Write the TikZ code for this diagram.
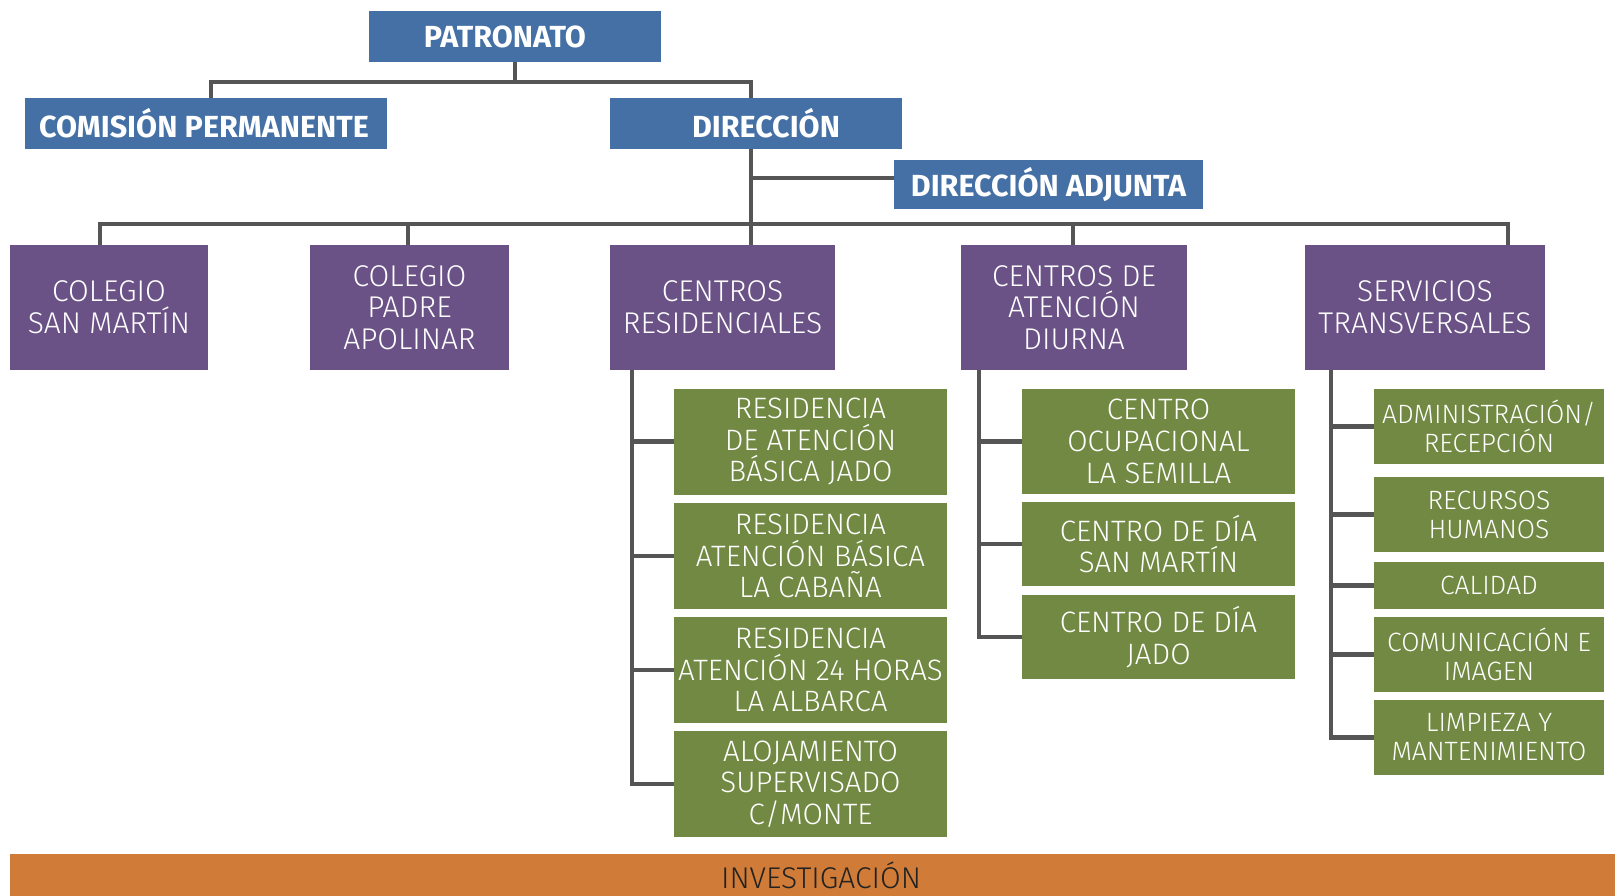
\documentclass[tikz,border=0pt]{standalone}
\usepackage{fontspec}
\setmainfont{Fira Sans}[UprightFont={* Light},BoldFont={* Bold}]
\begin{document}
\definecolor{cblue}{HTML}{4470A5}
\definecolor{cpurple}{HTML}{6A5287}
\definecolor{cgreen}{HTML}{718942}
\definecolor{corange}{HTML}{D07C38}
\definecolor{cline}{HTML}{555555}
\definecolor{ctext}{HTML}{222222}
\begin{tikzpicture}[x=1pt,y=-1pt,
  bx/.style 2 args={draw=none,inner sep=0pt,minimum width=#1 pt,minimum height=#2 pt,align=center,text=white},
  bluebox/.style 2 args={bx={#1}{#2},fill=cblue,font=\bfseries\fontsize{30.5}{34}\selectfont},
  purplebox/.style 2 args={bx={#1}{#2},fill=cpurple,font=\fontsize{30}{31.7}\selectfont},
  greenbox/.style 2 args={bx={#1}{#2},fill=cgreen,font=\fontsize{29.5}{31.7}\selectfont},
  smallgreen/.style 2 args={greenbox={#1}{#2},font=\fontsize{26.5}{29}\selectfont},
  conn/.style={draw=cline,line width=4.5pt}]
\useasboundingbox (0,0) rectangle (1615,896);
% top level
\node[bluebox={292}{51}] (pat) at (515,36.5) {\hspace*{-20pt}PATRONATO};
\node[bluebox={362}{51}] (com) at (206,123.5) {\hspace*{-4pt}COMISIÓN PERMANENTE};
\node[bluebox={292}{51}] (dir) at (756,123.5) {\hspace*{20pt}DIRECCIÓN};
\node[bluebox={309}{49}] (adj) at (1048.5,184.5) {DIRECCIÓN ADJUNTA};
% second level
\node[purplebox={198}{125}] (sm) at (109,307.5) {COLEGIO\\SAN MARTÍN};
\node[purplebox={199}{125}] (pa) at (409.5,307.5) {COLEGIO\\PADRE\\APOLINAR};
\node[purplebox={225}{125}] (cr) at (722.5,307.5) {CENTROS\\RESIDENCIALES};
\node[purplebox={226}{125}] (cad) at (1074,307.5) {CENTROS DE\\ATENCIÓN\\DIURNA};
\node[purplebox={240}{125}] (st) at (1425,307.5) {SERVICIOS\\TRANSVERSALES};
% residencial column
\node[greenbox={273}{106}] (r1) at (810.5,441.5) {RESIDENCIA\\DE ATENCIÓN\\BÁSICA JADO};
\node[greenbox={273}{106}] (r2) at (810.5,556) {RESIDENCIA\\ATENCIÓN BÁSICA\\LA CABAÑA};
\node[greenbox={273}{106}] (r3) at (810.5,670) {RESIDENCIA\\ATENCIÓN 24 HORAS\\LA ALBARCA};
\node[greenbox={273}{106}] (r4) at (810.5,784) {ALOJAMIENTO\\SUPERVISADO\\C/MONTE};
% diurna column
\node[greenbox={273}{105}] (d1) at (1158.5,441.5) {CENTRO\\OCUPACIONAL\\LA SEMILLA};
\node[greenbox={273}{84}] (d2) at (1158.5,544) {CENTRO DE DÍA\\SAN MARTÍN};
\node[greenbox={273}{84}] (d3) at (1158.5,637) {CENTRO DE DÍA\\JADO};
% servicios column
\node[smallgreen={230}{74.5}] (s1) at (1489,426.5) {ADMINISTRACIÓN/\\RECEPCIÓN};
\node[smallgreen={230}{75}] (s2) at (1489,514.5) {RECURSOS\\HUMANOS};
\node[smallgreen={230}{47}] (s3) at (1489,585.5) {CALIDAD};
\node[smallgreen={230}{74.5}] (s4) at (1489,654.5) {COMUNICACIÓN E\\IMAGEN};
\node[smallgreen={230}{75}] (s5) at (1489,737.5) {LIMPIEZA Y\\MANTENIMIENTO};
% investigacion bar
\fill[corange] (10,854) rectangle (1615,896);
\node[font=\fontsize{30}{32}\selectfont,text=ctext,inner sep=0pt] (inv) at (821,875) {INVESTIGACIÓN};
% connectors top
\draw[conn] (pat.south) -- ++(0,20);
\draw[conn] ([xshift=5pt]com.north) -- ++(0,-16) -| ([xshift=-5pt]dir.north);
\draw[conn] ([xshift=-5pt]dir.south) -- ([xshift=28.5pt]cr.north);
\draw[conn] ([yshift=6.5pt]adj.west) -- ++(-143,0);
% bus
\draw[conn] ([xshift=-9pt]sm.north) -- ++(0,-21) -| ([xshift=83pt]st.north);
\draw[conn] ([xshift=-1.5pt]pa.north) -- ++(0,-21);
\draw[conn] ([xshift=-1pt]cad.north) -- ++(0,-21);
% residencial
\draw[conn] ([xshift=-90.5pt]cr.south) |- (r4.west);
\draw[conn] (r1.west) -- ++(-42,0);
\draw[conn] (r2.west) -- ++(-42,0);
\draw[conn] (r3.west) -- ++(-42,0);
% diurna
\draw[conn] ([xshift=-95pt]cad.south) |- (d3.west);
\draw[conn] (d1.west) -- ++(-43,0);
\draw[conn] (d2.west) -- ++(-43,0);
% servicios
\draw[conn] ([xshift=-94pt]st.south) |- (s5.west);
\draw[conn] (s1.west) -- ++(-43,0);
\draw[conn] (s2.west) -- ++(-43,0);
\draw[conn] (s3.west) -- ++(-43,0);
\draw[conn] (s4.west) -- ++(-43,0);
\end{tikzpicture}
\end{document}
